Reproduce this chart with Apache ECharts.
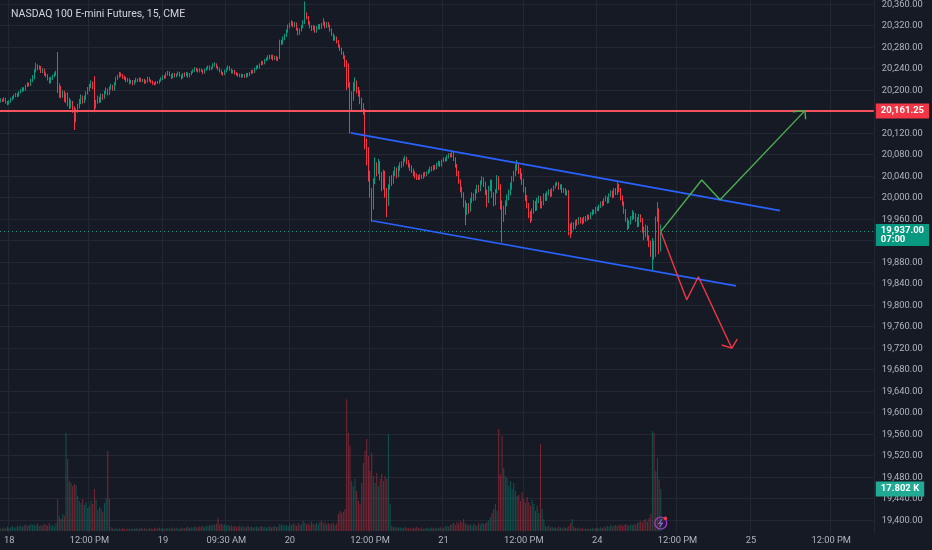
<!DOCTYPE html>
<html><head><meta charset="utf-8">
<script src="https://cdn.jsdelivr.net/npm/echarts@6/dist/echarts.min.js"></script>
<style>html,body{margin:0;padding:0;background:#161a25;}#c{width:932px;height:550px;}</style>
</head><body><div id="c"></div><script>
const chartTitle = 'NASDAQ 100 E-mini Futures, 15, CME';
const firstOpen = 20180;
const close = [
20182,20180,20184,20178,20175,20179,20183,20186,20189,20192,
20190,20196,20199,20203,20201,20208,20212,20210,20218,20224,
20236,20246,20240,20243,20235,20238,20230,20228,20222,20215,
20222,20226,20230,20232,20198,20205,20190,20196,20184,20188,
20180,20172,20176,20165,20150,20162,20170,20178,20186,20180,
20186,20195,20202,20208,20214,20206,20172,20178,20185,20180,
20190,20186,20196,20200,20194,20204,20208,20202,20212,20222,
20226,20230,20228,20224,20222,20218,20220,20214,20216,20212,
20216,20220,20218,20221,20217,20219,20214,20216,20222,20218,
20216,20213,20212,20215,20214,20218,20221,20226,20224,20230,
20233,20228,20224,20230,20226,20229,20232,20227,20224,20230,
20228,20231,20226,20230,20234,20236,20240,20237,20235,20238,
20236,20233,20238,20241,20244,20239,20242,20247,20248,20243,
20240,20236,20232,20230,20236,20240,20243,20238,20234,20236,
20232,20230,20227,20229,20226,20228,20225,20230,20228,20232,
20236,20234,20240,20244,20242,20248,20252,20250,20256,20258,
20262,20260,20264,20258,20262,20257,20260,20290,20288,20296,
20302,20310,20318,20322,20326,20320,20324,20314,20306,20312,
20318,20326,20342,20336,20325,20318,20314,20318,20310,20316,
20320,20316,20322,20326,20318,20324,20320,20312,20304,20296,
20298,20290,20282,20276,20270,20262,20250,20245,20212,20170,
20190,20205,20212,20200,20195,20180,20170,20160,20100,20070,
20040,20010,19985,20030,20060,20050,20065,20040,20020,20045,
20010,19990,20020,20035,20030,20045,20050,20042,20055,20060,
20062,20070,20074,20066,20060,20055,20050,20045,20040,20038,
20036,20040,20038,20044,20042,20046,20050,20055,20052,20058,
20056,20062,20066,20060,20068,20072,20070,20076,20080,20078,
20084,20072,20060,20045,20030,20015,20005,19990,19975,19985,
19978,19995,20005,19998,20012,20020,20015,20028,20035,20025,
20010,19995,20018,20030,20005,19990,20012,20035,20020,19985,
19960,19975,19990,20000,20010,20020,20035,20045,20055,20060,
20050,20040,20030,20015,20000,19985,19970,19960,19975,19990,
19980,19995,20000,19985,19990,20005,19998,20008,20012,20005,
20015,20020,20025,20028,20018,20022,20012,20015,20008,20010,
19945,19935,19950,19945,19955,19952,19960,19958,19955,19962,
19960,19966,19962,19970,19975,19972,19980,19978,19984,19990,
19988,19996,20000,19992,20005,20010,20002,20015,20008,20020,
20015,20000,19990,19975,19960,19945,19955,19962,19970,19965,
19960,19950,19965,19958,19940,19930,19945,19925,19915,19905,
19915,19895,19960,19975,19905,19937];
const high = [
20185,20184,20187,20186,20180,20181,20186,20189,20192,20195,
20195,20198,20202,20206,20205,20210,20215,20214,20221,20228,
20239,20251,20248,20246,20245,20241,20240,20233,20230,20224,
20225,20229,20233,20236,20271,20213,20208,20200,20199,20195,
20196,20186,20182,20180,20170,20166,20175,20184,20192,20190,
20190,20198,20206,20212,20218,20216,20226,20182,20190,20188,
20194,20193,20199,20205,20203,20207,20212,20210,20215,20225,
20229,20234,20233,20230,20227,20225,20223,20222,20219,20219,
20219,20223,20222,20224,20223,20221,20221,20219,20225,20224,
20220,20218,20215,20217,20217,20220,20224,20228,20228,20233,
20236,20235,20230,20232,20232,20231,20235,20234,20229,20232,
20233,20234,20233,20232,20236,20239,20243,20242,20240,20241,
20240,20238,20240,20243,20246,20246,20244,20250,20252,20250,
20245,20242,20238,20234,20238,20242,20246,20245,20240,20238,
20238,20234,20232,20231,20231,20230,20230,20232,20232,20234,
20238,20238,20242,20246,20247,20250,20255,20254,20258,20261,
20265,20266,20266,20266,20264,20264,20262,20294,20294,20300,
20305,20313,20322,20326,20330,20328,20327,20326,20316,20315,
20321,20330,20365,20345,20338,20328,20321,20321,20320,20319,
20323,20323,20325,20334,20328,20327,20327,20322,20315,20306,
20302,20300,20293,20285,20279,20272,20265,20256,20250,20215,
20198,20215,20224,20218,20206,20200,20186,20176,20165,20110,
20094,20050,20018,20036,20075,20066,20072,20068,20048,20052,
20050,20018,20025,20040,20042,20050,20058,20056,20060,20066,
20068,20074,20078,20076,20070,20064,20060,20054,20049,20045,
20042,20044,20043,20047,20048,20049,20053,20058,20058,20061,
20061,20065,20069,20068,20071,20075,20075,20079,20083,20083,
20087,20086,20075,20063,20050,20034,20020,20010,19995,19990,
19990,19999,20010,20008,20016,20024,20024,20032,20040,20038,
20030,20015,20022,20034,20033,20010,20016,20042,20040,20025,
19995,19985,19995,20006,20015,20028,20040,20050,20062,20070,
20065,20055,20046,20035,20020,20005,19990,19975,19980,19996,
19994,20000,20004,20003,19994,20008,20008,20012,20016,20015,
20018,20023,20028,20030,20029,20025,20025,20018,20018,20014,
20014,19952,19955,19954,19958,19960,19964,19964,19962,19965,
19966,19969,19968,19973,19978,19978,19983,19983,19987,19993,
19994,19999,20004,20002,20008,20014,20013,20018,20018,20029,
20026,20018,20004,19993,19979,19963,19958,19966,19977,19974,
19971,19964,19970,19969,19962,19946,19950,19948,19930,19920,
19925,19920,19965,19992,19980,19950];
const low = [
20177,20178,20179,20175,20172,20173,20177,20181,20184,20187,
20187,20188,20194,20197,20198,20199,20206,20207,20208,20215,
20220,20233,20237,20238,20232,20232,20227,20224,20218,20212,
20213,20219,20224,20227,20195,20186,20185,20186,20178,20176,
20170,20165,20166,20158,20126,20140,20158,20166,20174,20175,
20176,20182,20192,20198,20204,20202,20159,20166,20175,20176,
20177,20182,20184,20193,20190,20191,20201,20199,20199,20209,
20219,20223,20225,20221,20219,20215,20215,20211,20212,20209,
20210,20214,20215,20216,20215,20215,20212,20212,20214,20216,
20213,20210,20209,20210,20212,20212,20216,20219,20221,20222,
20227,20226,20221,20222,20224,20224,20227,20225,20220,20222,
20225,20226,20223,20224,20228,20232,20234,20235,20233,20233,
20234,20230,20231,20236,20239,20237,20237,20240,20244,20241,
20237,20233,20229,20227,20228,20233,20238,20236,20231,20231,
20229,20227,20225,20224,20223,20224,20223,20223,20225,20226,
20230,20231,20232,20238,20240,20240,20246,20247,20248,20254,
20256,20257,20258,20255,20256,20255,20254,20258,20284,20285,
20293,20299,20307,20315,20319,20317,20317,20311,20302,20303,
20309,20315,20323,20332,20322,20315,20310,20311,20307,20307,
20313,20313,20314,20320,20315,20316,20317,20309,20301,20292,
20292,20287,20279,20273,20266,20258,20243,20200,20205,20120,
20160,20180,20198,20194,20188,20174,20162,20154,20090,20060,
20030,20000,19955,19978,20025,20040,20044,20032,20012,20015,
20000,19964,19985,20015,20022,20026,20040,20036,20038,20050,
20055,20058,20066,20062,20056,20050,20046,20040,20036,20033,
20033,20033,20035,20035,20039,20040,20044,20047,20049,20050,
20052,20053,20059,20057,20058,20066,20067,20068,20073,20075,
20075,20068,20056,20040,20026,20010,20000,19982,19949,19968,
19970,19974,19990,19994,19995,20008,20010,20012,20024,20020,
20005,19982,19990,20012,20000,19984,19986,20008,20014,19978,
19917,19955,19968,19984,19995,20004,20015,20030,20040,20050,
20044,20034,20024,20010,19994,19980,19962,19953,19956,19970,
19975,19976,19990,19980,19980,19986,19994,19994,20004,20001,
20002,20012,20017,20022,20015,20015,20009,20009,20004,20004,
19930,19925,19932,19940,19942,19948,19950,19952,19950,19952,
19955,19957,19959,19960,19967,19969,19970,19975,19975,19981,
19984,19985,19993,19989,19990,20002,19999,20000,20005,20005,
20010,19995,19985,19970,19955,19940,19942,19950,19958,19960,
19955,19945,19946,19954,19935,19921,19926,19920,19908,19890,
19865,19885,19890,19955,19895,19900];
const volume = [
1200,900,1500,1100,1800,1300,1600,2100,1400,1700,
2200,1900,2600,1800,2400,2900,2100,2500,3000,2700,
2800,2400,3100,2000,2600,2300,3000,2700,2200,3300,
2100,2500,1900,3400,13600,6400,5100,7200,6500,41600,
30600,21200,20400,19100,20000,19500,14900,12700,11900,13600,
11000,12300,9800,10600,12800,11500,17800,13200,8900,10200,
9600,8200,11800,13900,34000,13600,1600,1200,900,1400,
900,1100,800,1300,1000,700,1200,900,1100,800,
1000,1300,900,1100,1400,800,1200,1000,900,1300,
1100,900,1400,1000,1200,1500,1100,1300,900,1200,
1300,1000,1200,1600,1100,1400,1200,1000,1500,1300,
1200,1500,1800,1300,1600,1400,1900,1700,1500,2000,
1800,2100,1600,2300,1900,2600,2200,2800,2400,3000,
5500,2800,3200,2500,2900,2200,2600,2000,2400,1800,
2100,1700,1900,2300,1600,2000,1500,1800,2200,1600,
1900,1400,1700,2000,1500,1800,2100,1600,1900,1300,
1700,2000,1500,1800,2200,1600,1900,3100,2400,2800,
2300,2600,2000,2900,2400,3200,2700,2100,3400,2600,
3000,4200,3600,2800,3300,2500,3900,3100,2700,3500,
2900,3800,4300,3200,3600,2800,3400,2900,3100,3500,
2600,3200,7200,8500,7800,8200,9300,56000,41600,36100,
21200,19100,22100,17000,12700,11500,20400,28900,34000,39100,
31900,25500,33100,23400,20400,24600,19100,22100,24200,21200,
23400,22100,41200,11500,2100,1600,1900,1300,1700,1400,
1500,1200,1800,1300,1100,1600,1000,1400,1200,1700,
1300,1100,1500,900,1200,1400,1000,1300,1600,1100,
1200,1500,1300,1700,1100,1400,1900,2300,1800,2600,
2900,3400,2500,3800,3100,4200,3600,5100,3300,2800,
2400,2900,2100,3000,2600,2200,3300,2700,3500,3000,
3200,3800,4500,5900,7600,9400,11500,8600,43400,24000,
40400,26800,23400,22500,19100,21200,17800,20400,17000,14900,
15300,12700,16500,13600,11900,14400,12300,10600,13200,11500,
8500,10600,7600,37000,9300,5100,2100,1700,2400,1500,
1800,1300,1600,1200,1900,1400,1100,1700,1300,1500,
2100,3400,5100,1800,1400,1200,1600,1000,1300,900,
1100,800,1200,900,1400,1000,1300,1500,1100,1600,
1300,1800,1500,2100,1700,2400,1900,2200,2600,2000,
2300,2800,2100,2500,3000,2600,2200,2900,2400,3100,
2700,3400,3800,4200,3600,4800,5100,3900,5500,7200,
42500,41600,25500,31000,22000,17802];

const resistance = 20161.25;
const lastPrice = 19937;
const lastPriceText = '19,937.00';
const countdown = '07:00';
const lastVolumeText = '17.802 K';
// drawings: [bar index, price]
const channelUpper = [[209.4, 20120.6], [466.4, 19976]];
const channelLower = [[222.3, 19957.2], [440.0, 19836]];
const bullPath = [[395, 19937], [419.5, 20033], [430.5, 19996], [481.3, 20162]];
const bullHead = [[474.0, 20160], [481.3, 20162], [481.7, 20146]];
const bearPath = [[395, 19937], [410.5, 19810], [417.5, 19853], [437.5, 19720]];
const bearHead = [[431.5, 19726], [437.5, 19720], [440.8, 19737]];
const tickLabels = {
  '06-18 00:00': '18', '06-18 12:00': '12:00 PM', '06-19 00:00': '19', '06-19 09:30': '09:30 AM',
  '06-20 00:00': '20', '06-20 12:00': '12:00 PM', '06-21 00:00': '21', '06-21 12:00': '12:00 PM',
  '06-24 00:00': '24', '06-24 12:00': '12:00 PM', '06-25 00:00': '25', '06-25 12:00': '12:00 PM'
};
const sessions = [
  ['06-17', 22*60+45, 24*60],
  ['06-18', 0, 16*60], ['06-18', 17*60, 24*60],
  ['06-19', 0, 12*60], ['06-19', 17*60, 24*60],
  ['06-20', 0, 16*60], ['06-20', 17*60, 24*60],
  ['06-21', 0, 16*60], ['06-23', 17*60, 24*60],
  ['06-24', 0, 16*60], ['06-24', 17*60, 24*60],
  ['06-25', 0, 16*60], ['06-25', 17*60, 24*60]
];
const N = 523;
const cats = [];
sessions.forEach(([d, s, e]) => {
  for (let m = s; m < e; m += 15) {
    const hh = String(Math.floor(m / 60)).padStart(2, '0');
    const mm = String(m % 60).padStart(2, '0');
    cats.push(d + ' ' + hh + ':' + mm);
  }
});
cats.length = N;

const UP = '#089981', DN = '#f23645';
const candles = close.map((c, i) => {
  const o = i === 0 ? firstOpen : close[i - 1];
  return [o, c, Math.min(low[i], o, c), Math.max(high[i], o, c)];
});
const volData = volume.map((v, i) => ({
  value: v,
  itemStyle: { color: candles[i][1] >= candles[i][0] ? 'rgba(8,153,129,0.45)' : 'rgba(242,54,69,0.45)' }
}));

const FONT = 'Roboto, "Noto Sans", sans-serif';
const GRID_RIGHT = 58.2;
const isTick = (idx, val) => tickLabels[val] !== undefined;

const chart = echarts.init(document.getElementById('c'));
const drawLine = (data, color, width) => ({
  type: 'line', xAxisIndex: 3, yAxisIndex: 0, data: data, symbol: 'none', silent: true,
  lineStyle: { color: color, width: width }, z: 6, animation: false
});
chart.setOption({
  backgroundColor: '#161a25',
  animation: false,
  title: { text: chartTitle, left: 6, top: 4, textStyle: { color: '#d1d4dc', fontSize: 10.5, fontWeight: 'normal', fontFamily: FONT } },
  grid: [
    { left: 0, right: GRID_RIGHT, top: -17.3, height: 559, outerBoundsMode: 'none', containLabel: false },
    { left: 0, right: GRID_RIGHT, top: 331, height: 200, outerBoundsMode: 'none', containLabel: false },
    { left: 0, right: GRID_RIGHT, top: 0, height: 533, outerBoundsMode: 'none', containLabel: false }
  ],
  xAxis: [
    { type: 'category', gridIndex: 0, data: cats, show: false },
    { type: 'category', gridIndex: 1, data: cats, show: false },
    { type: 'category', gridIndex: 2, data: cats,
      axisLine: { show: false }, axisTick: { show: false },
      axisLabel: { interval: isTick, formatter: v => tickLabels[v] || '', color: '#b2b5be', fontSize: 9.3, fontFamily: FONT, margin: 3 },
      splitLine: { show: true, interval: isTick, lineStyle: { color: '#232733', width: 1 } } },
    { type: 'value', gridIndex: 0, min: -0.5, max: N - 0.5, show: false }
  ],
  yAxis: [
    { type: 'value', gridIndex: 0, position: 'right', min: 19360, max: 20400, interval: 40,
      axisLine: { show: false }, axisTick: { show: false },
      axisLabel: { showMinLabel: false, showMaxLabel: false, color: '#b2b5be', fontSize: 9.3, fontFamily: FONT, margin: 8,
        formatter: v => v.toLocaleString('en-US', { minimumFractionDigits: 2, maximumFractionDigits: 2 }) },
      splitLine: { show: true, showMinLine: false, showMaxLine: false, lineStyle: { color: '#232733', width: 1 } } },
    { type: 'value', gridIndex: 1, min: 0, max: 85000, show: false },
    { type: 'value', gridIndex: 2, show: false }
  ],
  series: [
    { type: 'bar', xAxisIndex: 1, yAxisIndex: 1, data: volData, barWidth: '62%', z: 1, silent: true },
    { type: 'candlestick', xAxisIndex: 0, yAxisIndex: 0, data: candles, barWidth: '70%', z: 3, silent: true,
      itemStyle: { color: UP, color0: DN, borderColor: UP, borderColor0: DN, borderWidth: 1 },
      markLine: { symbol: 'none', silent: true, animation: false, label: { show: false },
        data: [
          { yAxis: resistance, lineStyle: { color: '#f7525f', width: 2, type: 'solid' } },
          { yAxis: lastPrice, lineStyle: { color: UP, width: 1, type: [1, 3] } }
        ] } },
    drawLine(channelUpper, '#2962ff', 1.6),
    drawLine(channelLower, '#2962ff', 1.6),
    drawLine(bullPath, '#4caf50', 1.4),
    drawLine(bullHead, '#4caf50', 1.4),
    drawLine(bearPath, '#f23645', 1.4),
    drawLine(bearHead, '#f23645', 1.4)
  ]
});

const yRes = chart.convertToPixel({ yAxisIndex: 0 }, resistance);
const yLast = chart.convertToPixel({ yAxisIndex: 0 }, lastPrice);
const yVol = chart.convertToPixel({ yAxisIndex: 1 }, volume[volume.length - 1]);
const xLastBar = chart.convertToPixel({ xAxisIndex: 1 }, cats[close.length - 1]);
const yVolBase = chart.convertToPixel({ yAxisIndex: 1 }, 0);
const axisX = 932 - GRID_RIGHT + 2;
const boxText = (id, text, y, bg, va, lh) => ({
  type: 'text', id: id, x: axisX, y: y, z: 100,
  style: { text: text, fill: '#ffffff', backgroundColor: bg, padding: [2, 5, 2, 5], fontSize: 9.5, fontFamily: FONT,
    fontWeight: 'bold', lineHeight: lh, verticalAlign: va, align: 'left' }
});
chart.setOption({
  graphic: [
    boxText('res', resistance.toLocaleString('en-US', { minimumFractionDigits: 2 }), yRes, DN, 'middle', 11),
    boxText('last', lastPriceText + '\n' + countdown, yLast - 7.5, UP, 'top', 9),
    boxText('vol', lastVolumeText, yVol, '#22ab94', 'middle', 11),
    { type: 'group', id: 'icon', x: xLastBar, y: yVolBase - 8, z: 100, children: [
      { type: 'circle', shape: { cx: 0, cy: 0, r: 6 }, style: { fill: 'rgba(156,39,176,0.12)', stroke: '#a13bd1', lineWidth: 1.2 } },
      { type: 'polyline', shape: { points: [[1.5, -4], [-1.8, 0.6], [1.6, 0.2], [-1.2, 4]] }, style: { stroke: '#b05be0', lineWidth: 1.1, fill: null } },
      { type: 'circle', shape: { cx: 4.6, cy: -4.6, r: 1.8 }, style: { fill: '#f23645' } }
    ] }
  ]
});
</script></body></html>
